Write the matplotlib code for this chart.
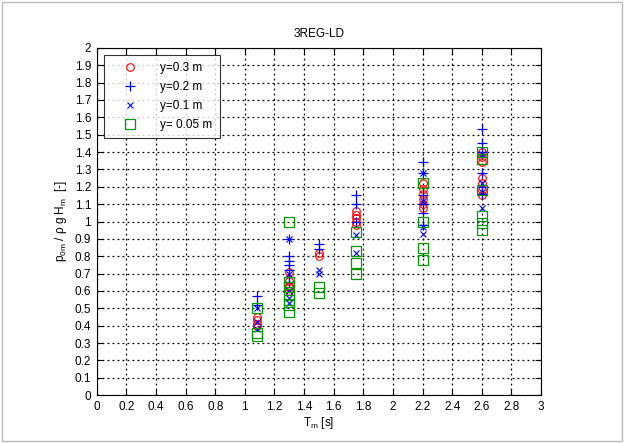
import numpy as np
import matplotlib
matplotlib.use('Agg')
import matplotlib.pyplot as plt
from matplotlib.patches import Rectangle

plt.rcParams['font.family'] = ['Liberation Sans', 'DejaVu Sans']
plt.rcParams['mathtext.fontset'] = 'custom'
plt.rcParams['mathtext.rm'] = 'Liberation Sans'
plt.rcParams['mathtext.it'] = 'Liberation Sans'

# wave period T_m [s] and dimensionless pressure at each gauge height
t_03 = [1.08, 1.08, 1.08, 1.08, 1.3, 1.3, 1.3, 1.3, 1.3, 1.5, 1.5,
        1.75, 1.75, 1.75, 1.75, 1.75, 2.2, 2.2, 2.2, 2.2, 2.2, 2.2,
        2.6, 2.6, 2.6, 2.6, 2.6, 2.6, 2.6]
p_03 = [0.45, 0.43, 0.41, 0.40, 0.71, 0.66, 0.63, 0.62, 0.60, 0.82, 0.80,
        1.06, 1.04, 1.02, 1.00, 0.98, 1.22, 1.19, 1.16, 1.13, 1.10, 1.08,
        1.40, 1.37, 1.34, 1.25, 1.22, 1.18, 1.15]

t_02 = [1.08, 1.08, 1.3, 1.3, 1.3, 1.3, 1.3, 1.3, 1.3, 1.5, 1.5,
        1.75, 1.75, 1.75, 2.2, 2.2, 2.2, 2.2, 2.2, 2.2,
        2.6, 2.6, 2.6, 2.6, 2.6, 2.6]
p_02 = [0.57, 0.52, 0.90, 0.80, 0.77, 0.75, 0.72, 0.68, 0.65, 0.87, 0.84,
        1.15, 1.10, 1.00, 1.34, 1.28, 1.15, 1.10, 1.05, 0.98,
        1.53, 1.45, 1.40, 1.28, 1.20, 1.16]

t_01 = [1.08, 1.08, 1.08, 1.3, 1.3, 1.3, 1.3, 1.3, 1.5, 1.5,
        1.75, 1.75, 2.2, 2.2, 2.2, 2.2, 2.6, 2.6, 2.6, 2.6]
p_01 = [0.50, 0.42, 0.38, 0.90, 0.70, 0.60, 0.56, 0.53, 0.72, 0.70,
        0.92, 0.82, 1.28, 1.12, 0.97, 0.93, 1.22, 1.17, 1.08, 1.39]

t_005 = [1.08, 1.08, 1.08, 1.3, 1.3, 1.3, 1.3, 1.3, 1.3, 1.3, 1.5, 1.5,
         1.75, 1.75, 1.75, 1.75, 2.2, 2.2, 2.2, 2.2,
         2.6, 2.6, 2.6, 2.6, 2.6, 2.6]
p_005 = [0.50, 0.36, 0.34, 1.00, 0.65, 0.62, 0.58, 0.55, 0.52, 0.48, 0.62, 0.59,
         0.94, 0.83, 0.76, 0.70, 1.22, 1.00, 0.85, 0.78,
         1.40, 1.36, 1.18, 1.03, 0.99, 0.95]

xticks = np.arange(0, 3.01, 0.2)
yticks = np.arange(0, 2.01, 0.1)

fig = plt.figure(figsize=(6.24, 4.43), dpi=100)
ax = fig.add_axes([0.155, 0.108, 0.712, 0.784])

green = (0.0, 0.6, 0.0)
ax.plot(t_03, p_03, ls='None', marker='o', ms=5.5, mfc='none', mec='red',
        mew=0.8, label='y=0.3 m')
ax.plot(t_02, p_02, ls='None', marker='+', ms=7, mec='blue', mew=0.9,
        label='y=0.2 m')
ax.plot(t_01, p_01, ls='None', marker='x', ms=4.5, mec='blue', mew=0.8,
        label='y=0.1 m')
ax.plot(t_005, p_005, ls='None', marker='s', ms=6.5, mfc='none', mec=green,
        mew=0.9, label='y= 0.05 m')

ax.set_xlim(0, 3)
ax.set_ylim(0, 2)
ax.set_xticks(xticks)
ax.set_yticks(yticks)
ax.set_xticklabels(['%g' % v for v in np.round(xticks, 1)])
ax.set_yticklabels(['%g' % v for v in np.round(yticks, 1)])
ax.tick_params(direction='in', labelsize=8.5, length=4, top=True, right=True,
               pad=4)
ax.grid(True, ls=(0, (1.5, 2.5)), color='black', lw=0.9)
for s in ax.spines.values():
    s.set_linewidth(0.8)

ax.set_title('3REG-LD', fontsize=8.5, pad=8)
ax.set_xlabel(r'T$_{\rm m}$ [s]', fontsize=8.5, labelpad=2)
ax.set_ylabel(r'p$_{\rm 0m}$ / $\rho$ g H$_{\rm m}$  [-]', fontsize=8.5,
              labelpad=4)

leg = ax.legend(loc='upper left', fontsize=8.5, frameon=True, fancybox=False,
                edgecolor='black', borderaxespad=0.6, handletextpad=1.0,
                labelspacing=0.6, borderpad=0.6, handlelength=3.2)
leg.get_frame().set_linewidth(0.8)

fig.patches.append(Rectangle((0.003, 0.005), 0.994, 0.99,
                             transform=fig.transFigure, fill=False,
                             ec='#bbbbbb', lw=1.0))

fig.savefig('out.png', dpi=100)
